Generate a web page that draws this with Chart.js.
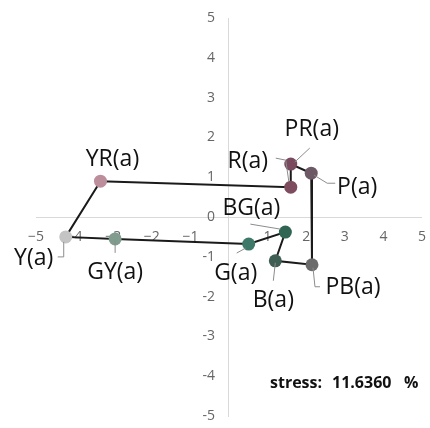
<!DOCTYPE html>
<html lang="en">
<head>
  <meta charset="UTF-8">
  <title>Colour map</title>
  <style>
    html, body {
      margin: 0;
      padding: 0;
      background: #ffffff;
    }
  </style>
</head>
<body>
  <canvas id="mapChart" width="430" height="428"></canvas>

  <script src="https://cdn.jsdelivr.net/npm/chart.js"></script>
  <script>
    // configuration points, in drawing order (the path closes back on YR)
    const names = ["YR(a)", "R(a)", "PR(a)", "P(a)", "PB(a)", "B(a)", "BG(a)", "G(a)", "GY(a)", "Y(a)"];
    const xValues = [-3.33, 1.6, 1.6, 2.13, 2.15, 1.2, 1.46, 0.51, -2.95, -4.23];
    const yValues = [0.9, 0.75, 1.33, 1.1, -1.2, -1.1, -0.38, -0.68, -0.55, -0.5];
    const pointColors = ["#bc8e9c", "#7d4d5f", "#7a4b5e", "#6d5866", "#6b6b6b", "#3f5f55", "#2f6552", "#3d7868", "#7f9c8e", "#c4c4c4"];
    const tickValues = [-5, -4, -3, -2, -1, 0, 1, 2, 3, 4, 5];
    const stressValue = "11.6360";

    const points = names.map((n, i) => ({ x: xValues[i], y: yValues[i] }));
    const pathPoints = points.concat([points[0]]);

    // where each label sits relative to its point, plus its leader line (pixels)
    const callouts = {
      "YR(a)": { dx: 12, dy: -22, leader: null },
      "R(a)":  { dx: -43, dy: -26, leader: [[-15, -29], [-5, -27], [-2, -6]] },
      "PR(a)": { dx: 21, dy: -35, leader: [[4, -2], [19, -16]] },
      "P(a)":  { dx: 46, dy: 14, leader: [[3, 2], [16, 10], [24, 10]] },
      "PB(a)": { dx: 41, dy: 23, leader: [[1, 3], [3, 22], [8, 22]] },
      "B(a)":  { dx: -2, dy: 40, leader: [[0, 2], [-2, 20]] },
      "BG(a)": { dx: -34, dy: -24, leader: [[-5, -3], [-35, -8]] },
      "G(a)":  { dx: -13, dy: 29, leader: [[-3, 4], [-12, 9]] },
      "GY(a)": { dx: 0, dy: 34, leader: [[0, 2], [0, 14]] },
      "Y(a)":  { dx: -32, dy: 22, leader: [[-2, 5], [-2, 20], [-8, 20]] }
    };

    const calloutPlugin = {
      id: "callouts",
      afterDatasetsDraw(chart) {
        const ctx = chart.ctx;
        const xs = chart.scales.x;
        const ys = chart.scales.y;
        ctx.save();
        names.forEach((name, i) => {
          const px = xs.getPixelForValue(xValues[i]);
          const py = ys.getPixelForValue(yValues[i]);
          const c = callouts[name];
          if (c.leader) {
            ctx.strokeStyle = "#8c8c8c";
            ctx.lineWidth = 1;
            ctx.beginPath();
            c.leader.forEach((p, k) => {
              if (k === 0) ctx.moveTo(px + p[0], py + p[1]);
              else ctx.lineTo(px + p[0], py + p[1]);
            });
            ctx.stroke();
          }
          ctx.fillStyle = "#111111";
          ctx.font = "23px 'Open Sans'";
          ctx.textAlign = "center";
          ctx.textBaseline = "middle";
          ctx.fillText(name, px + c.dx, py + c.dy);
        });

        // stress annotation
        ctx.font = "bold 16px 'Open Sans'";
        ctx.textAlign = "left";
        ctx.fillStyle = "#111111";
        ctx.fillText("stress:", 270, 383);
        ctx.fillText(stressValue, 332, 383);
        ctx.fillText("%", 404, 383);
        ctx.restore();
      }
    };

    const ctx = document.getElementById("mapChart").getContext("2d");
    new Chart(ctx, {
      type: "scatter",
      data: {
        datasets: [
          {
            label: "points",
            data: points,
            pointRadius: 6.5,
            pointHoverRadius: 6.5,
            pointBackgroundColor: pointColors,
            pointBorderWidth: 0,
            showLine: false,
            order: 1
          },
          {
            label: "path",
            data: pathPoints,
            showLine: true,
            borderColor: "#1a1a1a",
            borderWidth: 2,
            pointRadius: 0,
            tension: 0,
            order: 2
          }
        ]
      },
      options: {
        responsive: false,
        animation: false,
        devicePixelRatio: 1,
        layout: {
          padding: { left: 36, right: 4, top: 18, bottom: 12 }
        },
        plugins: {
          legend: { display: false },
          tooltip: { enabled: false }
        },
        scales: {
          x: {
            type: "linear",
            min: -5,
            max: 5,
            position: { y: 0 },
            afterBuildTicks(axis) {
              axis.ticks = tickValues.map(v => ({ value: v }));
            },
            grid: { display: false },
            border: { display: true, color: "#d9d9d9", width: 1 },
            ticks: {
              color: "#666666",
              font: { family: "'Open Sans'", size: 14 },
              padding: 4,
              callback: v => v === 0 ? "" : String(v).replace("-", "\u2212")
            }
          },
          y: {
            type: "linear",
            min: -5,
            max: 5,
            position: { x: 0 },
            afterBuildTicks(axis) {
              axis.ticks = tickValues.map(v => ({ value: v }));
            },
            grid: { display: false },
            border: { display: true, color: "#d9d9d9", width: 1 },
            ticks: {
              color: "#666666",
              font: { family: "'Open Sans'", size: 14 },
              padding: 3,
              // centred axis labels are right-aligned on the axis; the em space keeps them off it
              callback: v => String(v) + "\u2003"
            }
          }
        }
      },
      plugins: [calloutPlugin]
    });
  </script>
</body>
</html>
